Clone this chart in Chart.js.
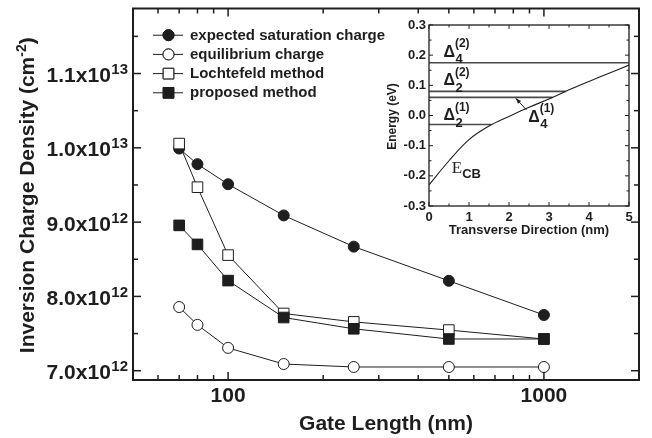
<!DOCTYPE html>
<html><head><meta charset="utf-8">
<script src="https://cdn.jsdelivr.net/npm/chart.js@4/dist/chart.umd.min.js"></script>
<style>
html,body{margin:0;padding:0;background:#fff;}
#wrap{position:relative;width:652px;height:438px;overflow:hidden;}
#main{position:absolute;left:0;top:0;}
#inset{position:absolute;left:380px;top:10px;}
</style></head><body>
<div id="wrap"><canvas id="main" width="652" height="438"></canvas><canvas id="inset" width="260" height="230"></canvas></div>
<script>
// ---------- main chart data ----------
const gateLength = [70, 80, 100, 150, 250, 500, 1000];
const expectedSaturation = [9.99e12, 9.78e12, 9.51e12, 9.09e12, 8.67e12, 8.21e12, 7.75e12];
const equilibriumCharge = [7.857e12, 7.617e12, 7.307e12, 7.09e12, 7.05e12, 7.05e12, 7.05e12];
const lochtefeldMethod = [1.0057e13, 9.47e12, 8.556e12, 7.77e12, 7.657e12, 7.547e12, 7.427e12];
const proposedMethod = [8.956e12, 8.70e12, 8.213e12, 7.716e12, 7.564e12, 7.427e12, 7.427e12];
const seriesNames = ['expected saturation charge', 'equilibrium charge', 'Lochtefeld method', 'proposed method'];
const xMajorTicks = [100, 1000];
const xTickLabels = ['100', '1000'];
const xMinorTicks = [60, 70, 80, 90, 200, 300, 400, 500, 600, 700, 800, 900];
const yMajorTicks = [7e12, 8e12, 9e12, 1e13, 1.1e13];
const yTickMantissa = ['7.0x10', '8.0x10', '9.0x10', '1.0x10', '1.1x10'];
const yTickExponent = ['12', '12', '12', '13', '13'];
const yMinorTicks = [7.5e12, 8.5e12, 9.5e12, 1.05e13, 1.15e13];
const xTitle = 'Gate Length (nm)';
const yTitle = ['Inversion Charge Density (cm', '-2', ')'];

// ---------- inset data ----------
const transverse = [0, 0.5, 1, 1.5, 2, 2.5, 3, 3.5, 4, 4.5, 5];
const conductionBand = [-0.23, -0.15, -0.08, -0.035, -0.003, 0.027, 0.055, 0.085, 0.113, 0.14, 0.167];
const levelSymbol = ['Δ', 'Δ', 'Δ', 'Δ'];
const levelSub = ['4', '2', '4', '2'];
const levelSup = ['(2)', '(2)', '(1)', '(1)'];
const levelEnergy = [0.175, 0.08, 0.06, -0.03];
const levelEnd = [5, 3.42, 3.09, 1.55];
const insetXTicks = [0, 1, 2, 3, 4, 5];
const insetXMinor = [0.5, 1.5, 2.5, 3.5, 4.5];
const insetYTicks = [-0.3, -0.2, -0.1, 0.0, 0.1, 0.2, 0.3];
const insetYLabels = ['-0.3', '-0.2', '-0.1', '0.0', '0.1', '0.2', '0.3'];
const insetYMinor = [-0.25, -0.15, -0.05, 0.05, 0.15, 0.25];
const insetXTitle = 'Transverse Direction (nm)';
const insetYTitle = 'Energy (eV)';

const SANS = '"Liberation Sans", Arial, Helvetica, sans-serif';
const SERIF = '"Liberation Serif", "Times New Roman", serif';
const INK = '#1e1e1e';

function pts(xs, ys) { return xs.map((v, i) => ({ x: v, y: ys[i] })); }

const styles = [
  { pointStyle: 'circle', radius: 5.5, fill: INK },
  { pointStyle: 'circle', radius: 5.5, fill: '#fff' },
  { pointStyle: 'rect', radius: 7.5, fill: '#fff' },
  { pointStyle: 'rect', radius: 7.5, fill: INK }
];
const seriesValues = [expectedSaturation, equilibriumCharge, lochtefeldMethod, proposedMethod];
const drawOrder = [2, 3, 1, 0];

const mainDatasets = seriesValues.map((vals, i) => ({
  label: seriesNames[i],
  data: pts(gateLength, vals),
  borderColor: INK,
  borderWidth: 1,
  pointStyle: styles[i].pointStyle,
  pointRadius: styles[i].radius,
  pointBackgroundColor: styles[i].fill,
  pointBorderColor: INK,
  pointBorderWidth: 1,
  tension: 0,
  fill: false,
  order: drawOrder[i]
}));

function line(ctx, x1, y1, x2, y2) { ctx.beginPath(); ctx.moveTo(x1, y1); ctx.lineTo(x2, y2); ctx.stroke(); }

const mainDecor = {
  id: 'mainDecor',
  afterDatasetsDraw(chart) {
    const { ctx, chartArea: a, scales: { x, y } } = chart;
    ctx.save();
    ctx.strokeStyle = INK; ctx.fillStyle = INK;
    ctx.lineWidth = 1.5;
    xMajorTicks.forEach(v => { const p = x.getPixelForValue(v); line(ctx, p, a.bottom, p, a.bottom - 8); line(ctx, p, a.top, p, a.top + 8); });
    xMinorTicks.forEach(v => { const p = x.getPixelForValue(v); line(ctx, p, a.bottom, p, a.bottom - 5); line(ctx, p, a.top, p, a.top + 5); });
    yMajorTicks.forEach(v => { const p = y.getPixelForValue(v); line(ctx, a.left, p, a.left + 8, p); line(ctx, a.right, p, a.right - 8, p); });
    yMinorTicks.forEach(v => { const p = y.getPixelForValue(v); if (p > a.top + 1) { line(ctx, a.left, p, a.left + 5, p); line(ctx, a.right, p, a.right - 5, p); } });
    ctx.lineWidth = 2;
    ctx.strokeRect(a.left, a.top, a.right - a.left, a.bottom - a.top);
    ctx.font = 'bold 21px ' + SANS; ctx.textAlign = 'center'; ctx.textBaseline = 'alphabetic';
    xMajorTicks.forEach((v, i) => ctx.fillText(xTickLabels[i], x.getPixelForValue(v), a.bottom + 22));
    yMajorTicks.forEach((v, i) => {
      const p = y.getPixelForValue(v);
      ctx.font = 'bold 15px ' + SANS;
      const ew = ctx.measureText(yTickExponent[i]).width;
      ctx.textAlign = 'left';
      ctx.fillText(yTickExponent[i], a.left - 5 - ew, p + 0.5);
      ctx.font = 'bold 21px ' + SANS; ctx.textAlign = 'right';
      ctx.fillText(yTickMantissa[i], a.left - 5 - ew - 0.5, p + 8.5);
    });
    ctx.font = 'bold 21px ' + SANS; ctx.textAlign = 'center';
    ctx.fillText(xTitle, (a.left + a.right) / 2, 430);
    ctx.save();
    ctx.translate(34, (a.top + a.bottom) / 2 + 1);
    ctx.rotate(-Math.PI / 2);
    ctx.font = 'bold 21px ' + SANS; const w0 = ctx.measureText(yTitle[0]).width; const w2 = ctx.measureText(yTitle[2]).width;
    ctx.font = 'bold 14px ' + SANS; const w1 = ctx.measureText(yTitle[1]).width;
    let sx = -(w0 + w1 + w2) / 2;
    ctx.textAlign = 'left';
    ctx.font = 'bold 21px ' + SANS; ctx.fillText(yTitle[0], sx, 0); sx += w0;
    ctx.font = 'bold 14px ' + SANS; ctx.fillText(yTitle[1], sx, -8); sx += w1;
    ctx.font = 'bold 21px ' + SANS; ctx.fillText(yTitle[2], sx, 0);
    ctx.restore();
    chart.data.datasets.forEach((ds, i) => {
      const ry = a.top + 26.7 + i * 19.2;
      ctx.lineWidth = 1; ctx.strokeStyle = INK;
      line(ctx, a.left + 20, ry, a.left + 50, ry);
      ctx.fillStyle = ds.pointBackgroundColor;
      Chart.helpers.drawPoint(ctx, { pointStyle: ds.pointStyle, radius: ds.pointRadius, rotation: 0, borderWidth: 1 }, a.left + 35.5, ry);
      ctx.fill(); ctx.stroke();
      ctx.fillStyle = INK;
      ctx.font = 'bold 15px ' + SANS; ctx.textAlign = 'left'; ctx.textBaseline = 'middle';
      ctx.fillText(ds.label, a.left + 57, ry + 0.5);
      ctx.textBaseline = 'alphabetic';
    });
    ctx.restore();
  }
};

new Chart(document.getElementById('main'), {
  type: 'line',
  data: { datasets: mainDatasets },
  options: {
    responsive: false, animation: false, devicePixelRatio: 1, events: [],
    layout: { padding: { top: 5, right: 13, left: 0, bottom: 0 } },
    plugins: { legend: { display: false }, tooltip: { enabled: false } },
    scales: {
      x: { type: 'logarithmic', min: 50, max: 2000, ticks: { display: false }, grid: { display: false }, border: { display: false }, afterFit(s) { s.height = 58; } },
      y: { type: 'linear', min: 6.875e12, max: 1.1875e13, ticks: { display: false }, grid: { display: false }, border: { display: false }, afterFit(s) { s.width = 133; } }
    }
  },
  plugins: [mainDecor]
});

// ---------- inset ----------
const insetDatasets = [{
  data: pts(transverse, conductionBand), borderColor: INK, borderWidth: 1.1, pointRadius: 0, tension: 0.35, fill: false
}].concat(levelEnergy.map((e, i) => ({
  data: [{ x: 0, y: e }, { x: levelEnd[i], y: e }], borderColor: '#4a4a4a', borderWidth: 1.6, pointRadius: 0, fill: false
})));

const insetDecor = {
  id: 'insetDecor',
  afterDatasetsDraw(chart) {
    const { ctx, chartArea: a, scales: { x, y } } = chart;
    ctx.save();
    ctx.strokeStyle = INK; ctx.fillStyle = INK;
    ctx.lineWidth = 1;
    insetXTicks.forEach(v => { const p = x.getPixelForValue(v); line(ctx, p, a.bottom, p, a.bottom - 4); line(ctx, p, a.top, p, a.top + 4); });
    insetXMinor.forEach(v => { const p = x.getPixelForValue(v); line(ctx, p, a.bottom, p, a.bottom - 2.5); line(ctx, p, a.top, p, a.top + 2.5); });
    insetYTicks.forEach(v => { const p = y.getPixelForValue(v); line(ctx, a.left, p, a.left + 4, p); line(ctx, a.right, p, a.right - 4, p); });
    insetYMinor.forEach(v => { const p = y.getPixelForValue(v); line(ctx, a.left, p, a.left + 2.5, p); line(ctx, a.right, p, a.right - 2.5, p); });
    ctx.lineWidth = 1.3;
    ctx.strokeRect(a.left, a.top, a.right - a.left, a.bottom - a.top);
    ctx.font = 'bold 13px ' + SANS;
    ctx.textAlign = 'right'; ctx.textBaseline = 'middle';
    insetYTicks.forEach((v, i) => ctx.fillText(insetYLabels[i], a.left - 3, y.getPixelForValue(v)));
    ctx.textAlign = 'center'; ctx.textBaseline = 'alphabetic';
    insetXTicks.forEach(v => ctx.fillText(String(v), x.getPixelForValue(v), a.bottom + 14.5));
    ctx.fillText(insetXTitle, (a.left + a.right) / 2, a.bottom + 28);
    ctx.save();
    ctx.translate(15.5, (a.top + a.bottom) / 2 + 1);
    ctx.rotate(-Math.PI / 2);
    ctx.font = 'bold 12px ' + SANS;
    ctx.fillText(insetYTitle, 0, 0);
    ctx.restore();
    const lab = (i, xv, yv) => {
      const px = x.getPixelForValue(xv), py = y.getPixelForValue(yv);
      ctx.textAlign = 'left';
      ctx.font = 'bold 16px ' + SANS;
      ctx.fillText(levelSymbol[i], px, py);
      const w = ctx.measureText(levelSymbol[i]).width;
      ctx.font = 'bold 13px ' + SANS;
      ctx.fillText(levelSub[i], px + w + 0.5, py + 6.5);
      ctx.font = 'bold 12px ' + SANS;
      ctx.fillText(levelSup[i], px + w, py - 9.5);
    };
    lab(0, 0.36, 0.195);
    lab(1, 0.36, 0.101);
    lab(3, 0.36, -0.015);
    lab(2, 2.48, -0.02);
    const ax1 = x.getPixelForValue(2.44), ay1 = y.getPixelForValue(0.018);
    const ax2 = x.getPixelForValue(2.17), ay2 = y.getPixelForValue(0.057);
    ctx.lineWidth = 1;
    line(ctx, ax1, ay1, ax2, ay2);
    const ang = Math.atan2(ay2 - ay1, ax2 - ax1);
    ctx.beginPath();
    ctx.moveTo(ax2, ay2);
    ctx.lineTo(ax2 - 6 * Math.cos(ang - 0.35), ay2 - 6 * Math.sin(ang - 0.35));
    ctx.lineTo(ax2 - 6 * Math.cos(ang + 0.35), ay2 - 6 * Math.sin(ang + 0.35));
    ctx.closePath(); ctx.fill();
    const ex = x.getPixelForValue(0.57), ey = y.getPixelForValue(-0.192);
    ctx.font = '17px ' + SERIF; ctx.textAlign = 'left';
    ctx.fillText('E', ex, ey);
    const ew = ctx.measureText('E').width;
    ctx.font = 'bold 13px ' + SANS;
    ctx.fillText('CB', ex + ew, ey + 5);
    ctx.restore();
  }
};

new Chart(document.getElementById('inset'), {
  type: 'line',
  data: { datasets: insetDatasets },
  options: {
    responsive: false, animation: false, devicePixelRatio: 1, events: [],
    layout: { padding: { top: 15, right: 11, left: 0, bottom: 0 } },
    plugins: { legend: { display: false }, tooltip: { enabled: false } },
    scales: {
      x: { type: 'linear', min: 0, max: 5, ticks: { display: false }, grid: { display: false }, border: { display: false }, afterFit(s) { s.height = 34; } },
      y: { type: 'linear', min: -0.3, max: 0.3, ticks: { display: false }, grid: { display: false }, border: { display: false }, afterFit(s) { s.width = 49; } }
    }
  },
  plugins: [insetDecor]
});
</script>
</body></html>
